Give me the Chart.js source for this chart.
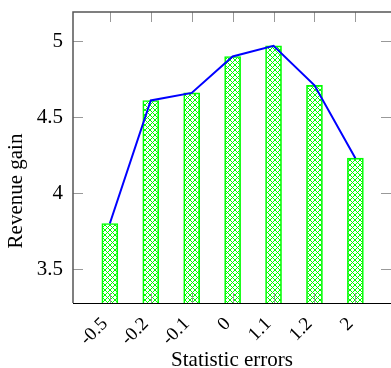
<!DOCTYPE html>
<html>
<head>
<meta charset="utf-8">
<script src="https://cdn.jsdelivr.net/npm/chart.js@4.4.1/dist/chart.umd.min.js"></script>
<style>
  html, body { margin: 0; padding: 0; background: #fff; }
  canvas { display: block; }
</style>
</head>
<body>
<canvas id="chart" width="391" height="368"></canvas>
<script>
/* ── DATA ── */
const categories = ['-0.5', '-0.2', '-0.1', '0', '1.1', '1.2', '2'];
const revenueGain = [3.80, 4.61, 4.66, 4.90, 4.97, 4.71, 4.23];
const yTickValues = [3.5, 4, 4.5, 5];
const xTitle = 'Statistic errors';
const yTitle = 'Revenue gain';

const FONT = "'Liberation Serif', serif";

// crosshatch fill like the pgfplots pattern
function makeHatch() {
  const c = document.createElement('canvas');
  c.width = 5; c.height = 5;
  const g = c.getContext('2d');
  g.strokeStyle = '#00ff00';
  g.lineWidth = 1;
  g.beginPath();
  g.moveTo(0, 0); g.lineTo(5, 5);
  g.moveTo(5, 0); g.lineTo(0, 5);
  g.stroke();
  return g.createPattern(c, 'repeat');
}

const points = revenueGain.map((v, i) => ({ x: i, y: v }));

/* ── frame, inside ticks and axis titles ── */
const framePlugin = {
  id: 'frame',
  afterDatasetsDraw(chart) {
    const { ctx, chartArea: a, scales } = chart;
    const len = 10;
    ctx.save();
    ctx.strokeStyle = '#999';
    ctx.lineWidth = 1;
    ctx.beginPath();
    yTickValues.forEach(v => {
      const y = Math.round(scales.y.getPixelForValue(v)) + 0.5;
      ctx.moveTo(a.left, y); ctx.lineTo(a.left + len, y);
      ctx.moveTo(a.right - len, y); ctx.lineTo(a.right, y);
    });
    categories.forEach((c, i) => {
      const x = Math.round(scales.x.getPixelForValue(i)) + 0.5;
      ctx.moveTo(x, a.bottom); ctx.lineTo(x, a.bottom - len);
      ctx.moveTo(x, a.top); ctx.lineTo(x, a.top + len);
    });
    ctx.stroke();

    ctx.strokeStyle = '#555';
    ctx.lineWidth = 1.5;
    ctx.beginPath();
    ctx.moveTo(a.right + 2, a.top);
    ctx.lineTo(a.left, a.top);
    ctx.lineTo(a.left, a.bottom);
    ctx.stroke();
    ctx.strokeStyle = '#000';
    ctx.lineWidth = 1;
    ctx.beginPath();
    ctx.moveTo(a.left, Math.round(a.bottom) + 0.5);
    ctx.lineTo(a.right + 2, Math.round(a.bottom) + 0.5);
    ctx.stroke();
    ctx.restore();
  },
  afterDraw(chart) {
    const { ctx, chartArea: a } = chart;
    ctx.save();
    ctx.fillStyle = '#000';
    ctx.font = '21px ' + FONT;
    ctx.textAlign = 'center';
    ctx.textBaseline = 'middle';
    ctx.fillText(xTitle, (a.left + a.right) / 2, 360);
    ctx.translate(16, 191);
    ctx.rotate(-Math.PI / 2);
    ctx.fillText(yTitle, 0, 0);
    ctx.restore();
  }
};

new Chart(document.getElementById('chart'), {
  type: 'bar',
  data: {
    datasets: [
      {
        type: 'line',
        data: points,
        borderColor: '#0000ff',
        borderWidth: 2,
        pointRadius: 0,
        tension: 0,
        fill: false,
        order: 0
      },
      {
        type: 'bar',
        data: points,
        backgroundColor: makeHatch(),
        borderColor: '#00ff00',
        borderWidth: 1,
        borderSkipped: false,
        barThickness: 16,
        order: 1
      }
    ]
  },
  options: {
    responsive: false,
    animation: false,
    devicePixelRatio: 1,
    layout: { padding: { top: 12, left: 0, right: 0, bottom: 0 } },
    plugins: { legend: { display: false }, tooltip: { enabled: false } },
    scales: {
      x: {
        type: 'linear',
        offset: false,
        min: -0.9,
        max: 6.87,
        grid: { display: false, drawTicks: false },
        border: { display: false },
        afterBuildTicks(scale) { scale.ticks = categories.map((c, i) => ({ value: i })); },
        afterFit(scale) {
          scale.height = 65;
          scale.paddingLeft = 0; scale.paddingRight = 0;
        },
        ticks: {
          callback: v => categories[v],
          maxRotation: 45,
          minRotation: 45,
          padding: 10,
          labelOffset: -5,
          color: '#000',
          font: { family: FONT, size: 19 }
        }
      },
      y: {
        min: 3.276,
        max: 5.193,
        grid: { display: false, drawTicks: false },
        border: { display: false },
        afterBuildTicks(scale) { scale.ticks = yTickValues.map(v => ({ value: v })); },
        afterFit(scale) {
          scale.width = 73;
          scale.paddingTop = 0; scale.paddingBottom = 0;
        },
        ticks: {
          callback: v => String(v),
          padding: 10,
          color: '#000',
          font: { family: FONT, size: 21 }
        }
      }
    }
  },
  plugins: [framePlugin]
});
</script>
</body>
</html>
